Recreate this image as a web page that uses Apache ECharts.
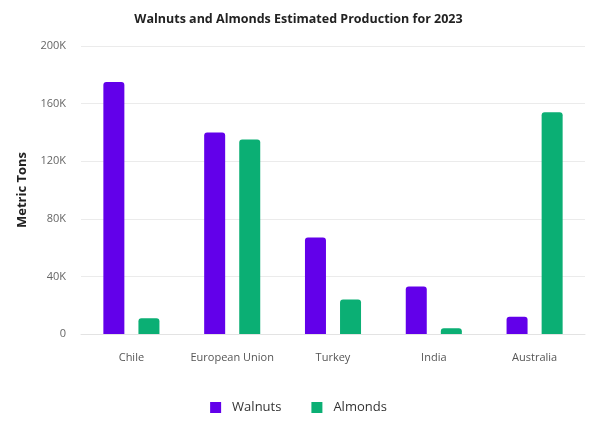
<!DOCTYPE html>
<html>
<head>
<meta charset="utf-8">
<script src="https://cdn.jsdelivr.net/npm/echarts@6/dist/echarts.min.js"></script>
<style>
  html, body { margin: 0; padding: 0; background: #fff; }
  #main { width: 597px; height: 429px; }
</style>
</head>
<body>
<div id="main"></div>
<script>
var countries = ['Chile', 'European Union', 'Turkey', 'India', 'Australia'];
var walnuts = [175000, 140000, 67000, 33000, 12000];
var almonds = [11000, 135000, 24000, 4000, 154000];
var yTicks = [0, 40000, 80000, 120000, 160000, 200000];

var chart = echarts.init(document.getElementById('main'));
var fontFam = '"Open Sans", "Noto Sans", sans-serif';

chart.setOption({
    animation: false,
    textStyle: { fontFamily: fontFam },
    title: {
        text: 'Walnuts and Almonds Estimated Production for 2023',
        left: 'center',
        top: 8,
        textStyle: { fontSize: 12.5, fontWeight: 'bold', color: '#222', fontFamily: fontFam }
    },
    legend: {
        bottom: 10,
        left: 'center',
        itemWidth: 11,
        itemHeight: 11,
        itemGap: 30,
        icon: 'rect',
        textStyle: { fontSize: 13, color: '#333', padding: [0, 0, 0, 6] },
        data: ['Walnuts', 'Almonds']
    },
    grid: { left: 81, right: 12, top: 46, bottom: 95 },
    xAxis: {
        type: 'category',
        data: countries,
        axisTick: { show: false },
        axisLine: { lineStyle: { color: '#e3e3e3', width: 1 } },
        axisLabel: { color: '#555', fontSize: 11, margin: 18, interval: 0 }
    },
    yAxis: {
        type: 'value',
        min: 0,
        max: yTicks[yTicks.length - 1],
        interval: 40000,
        name: 'Metric Tons',
        nameLocation: 'middle',
        nameGap: 52,
        nameTextStyle: { fontSize: 13, fontWeight: 'bold', color: '#222' },
        axisLabel: {
            color: '#666',
            fontSize: 11,
            margin: 15,
            formatter: function (v) { return v === 0 ? '0' : (v / 1000) + 'K'; }
        },
        splitLine: { lineStyle: { color: '#ebebeb' } }
    },
    series: [
        {
            name: 'Walnuts',
            type: 'bar',
            data: walnuts,
            barWidth: 21,
            barGap: '67%',
            itemStyle: { color: '#6200EA', borderRadius: [3, 3, 0, 0] }
        },
        {
            name: 'Almonds',
            type: 'bar',
            data: almonds,
            barWidth: 21,
            itemStyle: { color: '#0BAF74', borderRadius: [3, 3, 0, 0] }
        }
    ]
});
</script>
</body>
</html>
